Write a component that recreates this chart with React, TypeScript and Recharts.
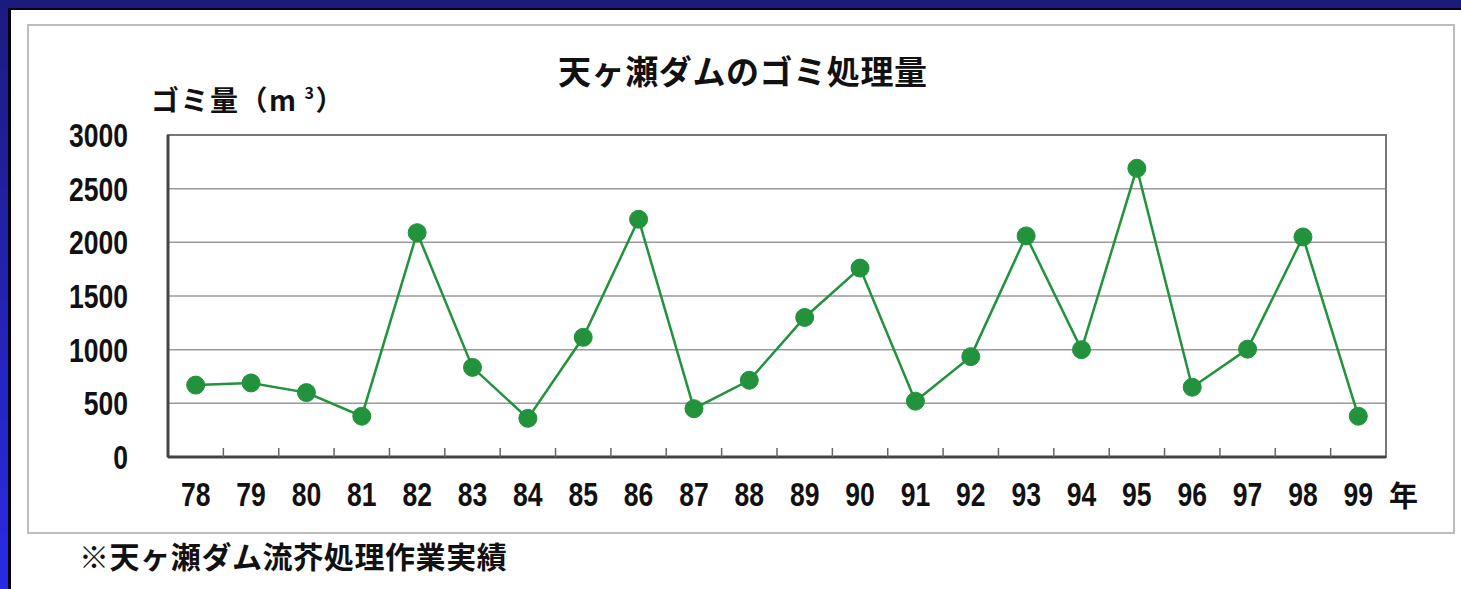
import React from "react";
import {
  LineChart,
  Line,
  XAxis,
  YAxis,
  CartesianGrid,
  ReferenceArea,
} from "recharts";

// 年度 (19xx) と天ヶ瀬ダムのゴミ処理量 (m3)
const years = [
  "78", "79", "80", "81", "82", "83", "84", "85", "86", "87", "88",
  "89", "90", "91", "92", "93", "94", "95", "96", "97", "98", "99",
];
const amounts = [
  670, 690, 600, 380, 2090, 835, 360, 1115, 2215, 450, 715,
  1300, 1760, 520, 935, 2060, 1000, 2690, 650, 1005, 2050, 380,
];
const yTicks = [0, 500, 1000, 1500, 2000, 2500, 3000];

const data = years.map((year, i) => ({ i, year, amount: amounts[i] }));
const xDomain: [number, number] = [-0.5, years.length - 0.5];
const centerTicks = years.map((_, i) => i);
const boundaryTicks = years.slice(1).map((_, i) => i + 0.5);

const W = 1461;
const H = 589;
const jp = '"Noto Sans CJK JP", "Noto Sans", sans-serif';
const num = '"Liberation Sans", Arial, sans-serif';
const green = "#22923c";

// narrow digits like the original (condensed gothic)
function NarrowTick(props: any) {
  const { x, y, payload, textAnchor, verticalAnchor, formatter } = props;
  const label = formatter ? formatter(payload.value) : String(payload.value);
  const dy = verticalAnchor === "middle" ? "0.355em" : "0.71em";
  return (
    <g transform={`translate(${x},${y}) scale(0.78,1)`}>
      <text
        x={0}
        y={0}
        dy={dy}
        textAnchor={textAnchor}
        fill="#111"
        fontSize={34}
        fontWeight={600}
        fontFamily={num}
      >
        {label}
      </text>
    </g>
  );
}

function BoundaryTick(props: any) {
  const { x, y } = props;
  return <line x1={x} x2={x} y1={y} y2={y - 9} stroke="#666" strokeWidth={1.5} />;
}

export default function App() {
  return (
    <div
      style={{
        position: "absolute",
        left: 0,
        top: 0,
        width: W,
        height: H,
        background: "#ffffff",
        overflow: "hidden",
      }}
    >
      {/* slide border */}
      <div style={{ position: "absolute", left: 0, top: 0, width: W, height: 8, background: "#1b1b7e" }} />
      <div style={{ position: "absolute", left: 0, top: 8, width: W, height: 2, background: "#050510" }} />
      <div
        style={{
          position: "absolute",
          left: 0,
          top: 0,
          width: 8,
          height: H,
          background: "linear-gradient(#1b1b7e, #2a2ae6)",
        }}
      />
      <div style={{ position: "absolute", left: 8, top: 8, width: 3, height: H, background: "#050510" }} />

      {/* chart frame */}
      <div
        style={{
          position: "absolute",
          left: 27,
          top: 24,
          width: 1424,
          height: 506,
          border: "2px solid #bdbdbd",
        }}
      />

      <div
        style={{
          position: "absolute",
          left: 558,
          top: 52,
          fontFamily: jp,
          fontWeight: 700,
          fontSize: 33,
          lineHeight: "36px",
          letterSpacing: 0.6,
          color: "#111",
          whiteSpace: "nowrap",
        }}
      >
        天ヶ瀬ダムのゴミ処理量
      </div>

      <div
        style={{
          position: "absolute",
          left: 151,
          top: 84,
          fontFamily: jp,
          fontWeight: 700,
          fontSize: 28,
          lineHeight: "30px",
          letterSpacing: 1.5,
          color: "#111",
          whiteSpace: "nowrap",
        }}
      >
        ゴミ量（m
        <span style={{ fontSize: 16, position: "relative", top: -12, marginLeft: 7 }}>3</span>
        ）
      </div>

      <div
        style={{
          position: "absolute",
          left: 1389,
          top: 478,
          fontFamily: jp,
          fontWeight: 700,
          fontSize: 29,
          lineHeight: "32px",
          color: "#111",
        }}
      >
        年
      </div>

      <div
        style={{
          position: "absolute",
          left: 79,
          top: 539,
          fontFamily: jp,
          fontWeight: 700,
          fontSize: 30,
          lineHeight: "32px",
          letterSpacing: 0.6,
          color: "#111",
          whiteSpace: "nowrap",
        }}
      >
        ※天ヶ瀬ダム流芥処理作業実績
      </div>

      <div style={{ position: "absolute", left: 0, top: 0 }}>
        <LineChart
          width={W}
          height={H}
          data={data}
          margin={{ top: 135, right: 75, left: 58, bottom: 91 }}
        >
          <CartesianGrid
            xAxisId="main"
            vertical={false}
            stroke="#9a9a9a"
            strokeWidth={1.5}
          />
          <XAxis
            xAxisId="bounds"
            type="number"
            dataKey="i"
            domain={xDomain}
            ticks={boundaryTicks}
            interval={0}
            tick={<BoundaryTick />}
            tickLine={false}
            tickSize={0}
            tickMargin={0}
            axisLine={{ stroke: "#444", strokeWidth: 3 }}
            height={1}
          />
          <XAxis
            xAxisId="main"
            type="number"
            dataKey="i"
            domain={xDomain}
            ticks={centerTicks}
            tickFormatter={(v: number) => years[v] ?? ""}
            interval={0}
            axisLine={false}
            tickLine={false}
            tickSize={0}
            tickMargin={24}
            height={40}
            tick={<NarrowTick formatter={(v: number) => years[v] ?? ""} />}
          />
          <YAxis
            type="number"
            domain={[0, 3000]}
            ticks={yTicks}
            interval={0}
            width={110}
            axisLine={{ stroke: "#444", strokeWidth: 3 }}
            tickLine={false}
            tickSize={0}
            tickMargin={40}
            tick={<NarrowTick />}
          />
          <ReferenceArea
            xAxisId="main"
            x1={xDomain[0]}
            x2={xDomain[1]}
            y1={0}
            y2={3000}
            fill="none"
            stroke="#777"
            strokeWidth={2}
          />
          <Line
            xAxisId="main"
            type="linear"
            dataKey="amount"
            stroke={green}
            strokeWidth={2.5}
            dot={{ r: 9, fill: green, stroke: green, strokeWidth: 1 }}
            activeDot={false}
            isAnimationActive={false}
          />
        </LineChart>
      </div>
    </div>
  );
}
